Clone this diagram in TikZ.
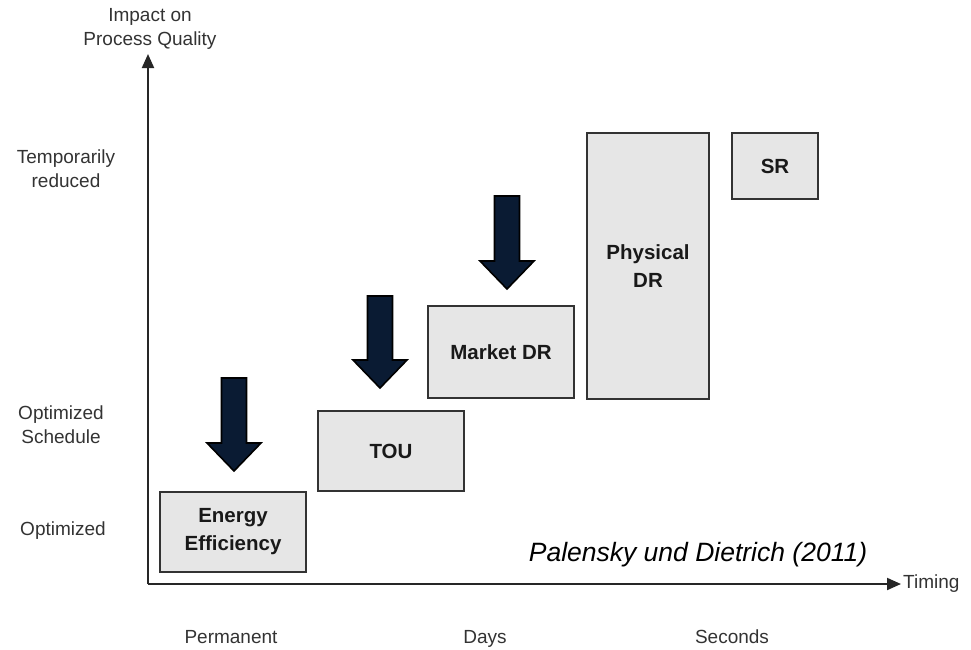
\documentclass[tikz,border=0pt]{standalone}
\usepackage{fontspec}
\setmainfont{Liberation Sans}
\usetikzlibrary{arrows.meta}
\definecolor{boxfill}{HTML}{E6E6E6}
\definecolor{boxline}{HTML}{333333}
\definecolor{navy}{HTML}{0A1B33}
\definecolor{lbl}{HTML}{333333}
\begin{document}
\begin{tikzpicture}[x=1pt,y=-1pt,
  axis/.style={line width=2pt,draw=black!85,-{Triangle[length=14pt,width=12pt]}},
  lab/.style={text=lbl,font=\fontsize{19}{24}\selectfont,align=center,inner sep=0pt},
  bx/.style={draw=boxline,line width=1.5pt,fill=boxfill,inner sep=0pt,align=center,
    font=\fontsize{20.5}{28}\selectfont\bfseries,text=black!90},
  blk/.style={draw=black,line width=1.6pt,fill=navy,line join=miter}]
\useasboundingbox (0,0) rectangle (971,649);
% axes
\coordinate (o) at (148,584);
\coordinate (ytip) at (148,54);
\coordinate (xtip) at (901,584);
\draw[axis] (o) -- (ytip);
\draw[axis] (o) -- (xtip);
% axis titles
\node[lab] (yt) at (150,29) {Impact on\\Process Quality};
\node[lab,anchor=west] (xt) at (903,584) {Timing};
% y labels
\node[lab] (y1) at (66,169) {Temporarily\\reduced};
\node[lab] (y2) at (61,425) {Optimized\\Schedule};
\node[lab] (y3) at (63,531) {Optimized};
% x labels
\node[lab,anchor=base] (x1) at (231,643) {Permanent};
\node[lab,anchor=base] (x2) at (485,643) {Days};
\node[lab,anchor=base] (x3) at (732,643) {Seconds};
% boxes
\node[bx,minimum width=146pt,minimum height=80pt] (ee) at (233,532) {Energy\\Efficiency};
\node[bx,minimum width=146pt,minimum height=80pt] (tou) at (391,451) {TOU};
\node[bx,minimum width=146pt,minimum height=92pt] (mdr) at (501,352) {Market DR};
\node[bx,minimum width=122pt,minimum height=266pt] (pdr) at (648,266) {Physical\\DR};
\node[bx,minimum width=86pt,minimum height=66pt] (sr) at (775,166) {SR};
% block arrows
\newcommand\blkarrow[3]{%
  \draw[blk] (#1-12.5,#2) -- (#1+12.5,#2) -- (#1+12.5,#3-28) -- (#1+27,#3-28)
    -- (#1,#3) -- (#1-27,#3-28) -- (#1-12.5,#3-28) -- cycle;}
\blkarrow{234}{378}{471}
\blkarrow{380}{296}{388}
\blkarrow{507}{196}{289}
% citation
\node[font=\fontsize{26.5}{30}\selectfont\itshape,inner sep=0pt] (cite) at (698,555) {Palensky und Dietrich (2011)};
\end{tikzpicture}
\end{document}
